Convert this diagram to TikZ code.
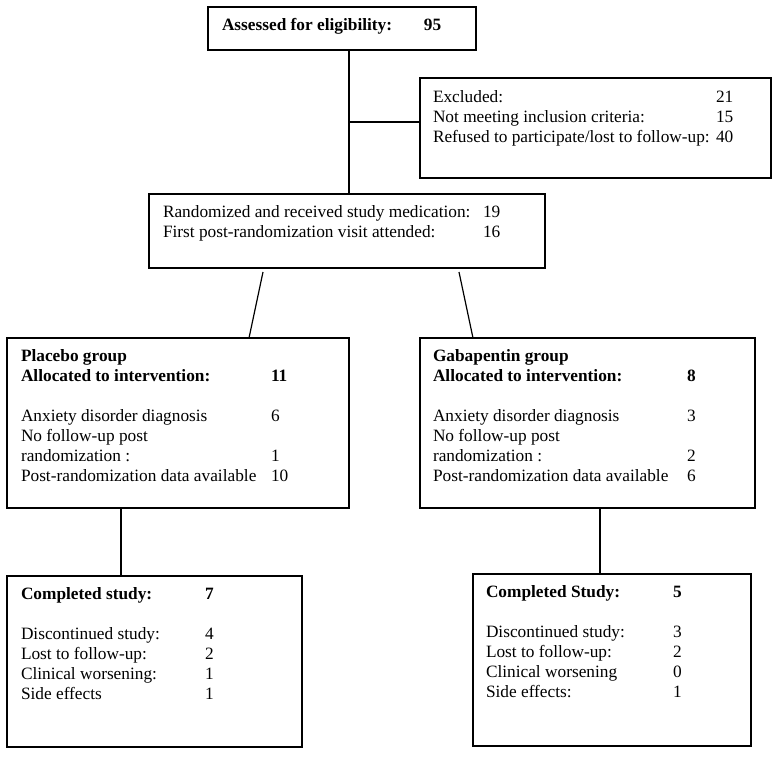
\documentclass[tikz,border=0pt]{standalone}
\usepackage{fontspec}
\setmainfont{Liberation Serif}
\tikzset{
  box/.style={draw, line width=1.2pt, inner sep=0pt, outer sep=0pt, anchor=north west},
  txt/.style={anchor=base west, inner sep=0pt, outer sep=0pt, font=\fontsize{17.3}{20}\selectfont},
  link/.style={line width=1.2pt}
}
\begin{document}
\begin{tikzpicture}[x=1pt,y=-1pt]
\useasboundingbox (0,0) rectangle (779,756);
% boxes
\node[box, minimum width=268pt, minimum height=43pt] (top) at (208,7) {};
\node[box, minimum width=351pt, minimum height=100pt] (exc) at (420,78) {};
\node[box, minimum width=396pt, minimum height=74pt] (rand) at (149,194) {};
\node[box, minimum width=342pt, minimum height=170pt] (plac) at (7,338) {};
\node[box, minimum width=335pt, minimum height=170pt] (gaba) at (420,338) {};
\node[box, minimum width=295pt, minimum height=171pt] (compP) at (7,576) {};
\node[box, minimum width=278pt, minimum height=172pt] (compG) at (473,574) {};
% texts
\node[txt] (ttop) at (222,30) {\begin{tabular}[t]{@{}p{202pt}@{}l@{}}\textbf{Assessed for eligibility:} & \textbf{95}\end{tabular}};
\node[txt] (texc) at (433,102) {\begin{tabular}[t]{@{}p{283pt}@{}r@{}}Excluded: & 21\\ Not meeting inclusion criteria: & 15\\ Refused to participate/lost to follow-up: & 40\end{tabular}};
\node[txt] (trand) at (163,217) {\begin{tabular}[t]{@{}p{320pt}@{}l@{}}Randomized and received study medication: & 19\\ First post-randomization visit attended: & 16\end{tabular}};
\node[txt] (tplac) at (21,361) {\begin{tabular}[t]{@{}p{250pt}@{}l@{}}\textbf{Placebo group} & \\ \textbf{Allocated to intervention:} & \textbf{11}\\ & \\ Anxiety disorder diagnosis & 6\\ No follow-up post & \\ randomization : & 1\\ Post-randomization data available & 10\end{tabular}};
\node[txt] (tgaba) at (433,361) {\begin{tabular}[t]{@{}p{254pt}@{}l@{}}\textbf{Gabapentin group} & \\ \textbf{Allocated to intervention:} & \textbf{8}\\ & \\ Anxiety disorder diagnosis & 3\\ No follow-up post & \\ randomization : & 2\\ Post-randomization data available & 6\end{tabular}};
\node[txt] (tcompP) at (21,599) {\begin{tabular}[t]{@{}p{184pt}@{}l@{}}\textbf{Completed study:} & \textbf{7}\\ & \\ Discontinued study: & 4\\ Lost to follow-up: & 2\\ Clinical worsening: & 1\\ Side effects & 1\end{tabular}};
\node[txt] (tcompG) at (486,597) {\begin{tabular}[t]{@{}p{187pt}@{}l@{}}\textbf{Completed Study:} & \textbf{5}\\ & \\ Discontinued study: & 3\\ Lost to follow-up: & 2\\ Clinical worsening & 0\\ Side effects: & 1\end{tabular}};
% connector helpers
\coordinate (v) at (349,0);
\coordinate (h) at (0,122);
\coordinate (dla) at (263,272);
\coordinate (dlb) at (249,0);
\coordinate (dra) at (459,272);
\coordinate (drb) at (473,0);
\coordinate (vp) at (121,0);
\coordinate (vg) at (600,0);
% connectors
\draw[link] (top.south -| v) -- (rand.north -| v);
\draw[link] (v |- h) -- (exc.west |- h);
\draw[link] (dla) -- (plac.north -| dlb);
\draw[link] (dra) -- (gaba.north -| drb);
\draw[link] (plac.south -| vp) -- (compP.north -| vp);
\draw[link] (gaba.south -| vg) -- (compG.north -| vg);
\end{tikzpicture}
\end{document}
